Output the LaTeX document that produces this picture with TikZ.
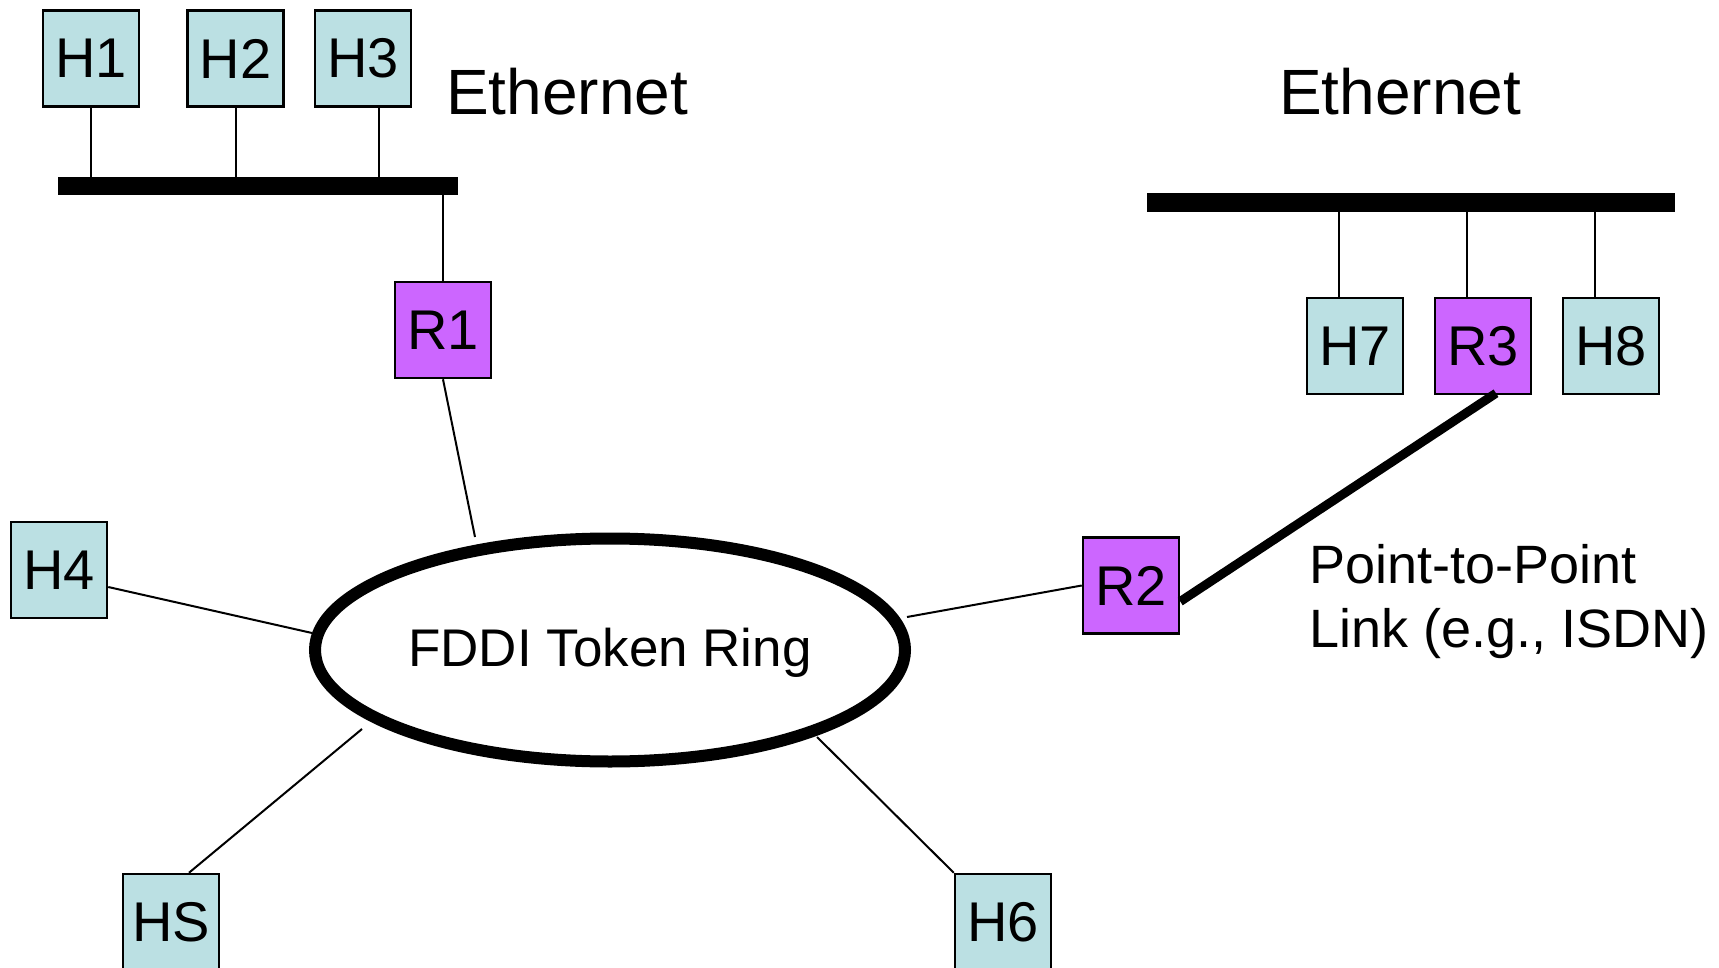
\documentclass[tikz,border=0pt]{standalone}
\usepackage{fontspec}
\setmainfont{Liberation Sans}
\usetikzlibrary{shapes.geometric}
\definecolor{hostcol}{RGB}{187,224,227}
\definecolor{routercol}{RGB}{204,102,255}
\begin{document}
\begin{tikzpicture}[x=1pt,y=-1pt,
  boxbase/.style={draw=black,line width=2.5pt,minimum width=96pt,minimum height=96pt,inner sep=0pt,font=\fontsize{56}{60}\selectfont},
  host/.style={boxbase,fill=hostcol},
  router/.style={boxbase,fill=routercol},
  wire/.style={line width=2pt},
  busline/.style={line width=18pt,line cap=butt},
  bigtext/.style={font=\fontsize{64}{70}\selectfont,anchor=base west,inner sep=0pt},
  midtext/.style={font=\fontsize{54}{60}\selectfont,anchor=base west,inner sep=0pt}]
\useasboundingbox[fill=white] (0,0) rectangle (1719,968);

% left ethernet
\node[host] (H1) at (91,58.5) {H1};
\node[host] (H2) at (235.5,58.5) {H2};
\node[host] (H3) at (363,58.5) {H3};
\coordinate (busLa) at (58,186);
\coordinate (busLb) at (458,186);
\draw[busline] (busLa) -- (busLb);
\node[bigtext] (eth1) at (446,115) {Ethernet};
\node[router] (R1) at (443,330) {R1};
\draw[wire] (H1.south) -- (H1.south |- 0,177);
\draw[wire] (H2.south) -- (H2.south |- 0,177);
\draw[wire] ([xshift=16pt]H3.south) -- ([xshift=16pt]H3.south |- 0,177);
\draw[wire] (R1.north) -- (R1.north |- 0,195);

% right ethernet
\node[bigtext] (eth2) at (1279,115) {Ethernet};
\coordinate (busRa) at (1147,202.5);
\coordinate (busRb) at (1675,202.5);
\draw[line width=19pt,line cap=butt] (busRa) -- (busRb);
\node[host] (H7) at (1355,346) {H7};
\node[router] (R3) at (1483,346) {R3};
\node[host] (H8) at (1611,346) {H8};
\draw[wire] ([xshift=-16pt]H7.north) -- ([xshift=-16pt]H7.north |- 0,212);
\draw[wire] ([xshift=-16pt]R3.north) -- ([xshift=-16pt]R3.north |- 0,212);
\draw[wire] ([xshift=-16pt]H8.north) -- ([xshift=-16pt]H8.north |- 0,212);

% ring
\node[ellipse,draw=black,line width=12pt,minimum width=590pt,minimum height=223pt,
      inner sep=0pt,font=\fontsize{53}{60}\selectfont,text height=37pt,text depth=5pt]
      (ring) at (610,650) {FDDI Token Ring};

\node[host] (H4) at (59,570) {H4};
\node[host] (HS) at (171,922) {HS};
\node[host] (H6) at (1003,922) {H6};
\node[router] (R2) at (1131,585.5) {R2};

\coordinate (eR1) at (475,537);
\coordinate (eH4) at (312,633);
\coordinate (eHS) at (362,729);
\coordinate (eH6) at (817,737);
\coordinate (eR2) at (907,617);

\draw[wire] (R1.south) -- (eR1);
\draw[wire] ([yshift=-17pt]H4.east) -- (eH4);
\draw[wire] ([xshift=18pt]HS.north) -- (eHS);
\draw[wire] (H6.north west) -- (eH6);
\draw[wire] (R2.west) -- (eR2);
\draw[line width=9pt] ([yshift=-16pt]R2.east) -- ([xshift=13pt,yshift=2pt]R3.south);

\node[midtext] (ptp1) at (1309,583) {Point-to-Point};
\node[midtext] (ptp2) at (1309,647) {Link (e.g., ISDN)};
\end{tikzpicture}
\end{document}
